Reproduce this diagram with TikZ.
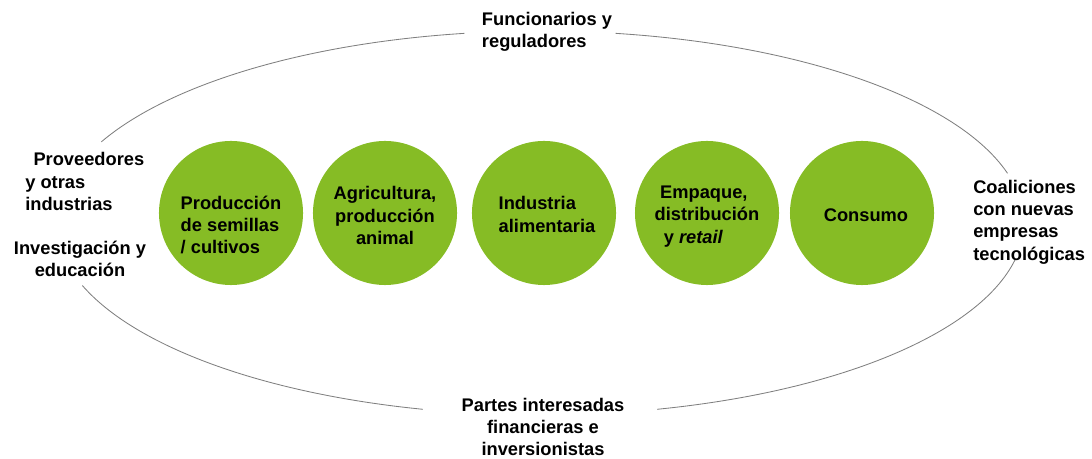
\documentclass[tikz,border=0pt]{standalone}
\usepackage{fontspec}
\setmainfont{Liberation Sans}
\usepackage{xcolor}
\usepackage{tikz}
\usetikzlibrary{calc}
\definecolor{leafgreen}{HTML}{86BC25}
\definecolor{ringgray}{HTML}{7F7F7F}
\tikzset{
  stage/.style={circle,fill=leafgreen,minimum size=3.6cm,inner sep=0pt},
  stagetxt/.style={font=\fontsize{13}{15.8}\selectfont\bfseries,inner sep=0pt},
  actor/.style={font=\fontsize{13}{15.8}\selectfont\bfseries,inner sep=0pt},
  ring/.style={draw=ringgray,line width=0.6pt},
}
\begin{document}
\begin{tikzpicture}[x=0.025cm,y=0.025cm]
  \useasboundingbox(0,0)rectangle(1092,459);
  % Outer ring, broken where the actors sit
  \coordinate(eo)at(540,236);
  \foreach \st/\en in {15/81,99/155,199/256,284/349}{
    \draw[ring]($(eo)+(\st:484 and 192)$)
      arc[start angle=\st,end angle=\en,x radius=484,y radius=192];}
  % Value chain
  \node[stage](c1)at(231,246){};
  \node[stage](c2)at(385,246){};
  \node[stage](c3)at(544,246){};
  \node[stage](c4)at(707,246){};
  \node[stage](c5)at(862,246){};
  \node[stagetxt,align=left]at($(c1)+(0,-12)$){Producción\\de semillas\\/ cultivos};
  \node[stagetxt,align=center]at($(c2)+(0,-2.5)$){Agricultura,\\producción\\animal};
  \node[stagetxt,align=left]at($(c3)+(3,-1.5)$){Industria\\alimentaria};
  \node[stagetxt,align=left]at($(c4)+(0,-3.5)$)
    {\hspace*{0.3em}Empaque,\\distribución\\\hspace*{0.5em}y \textit{retail}};
  \node[stagetxt]at($(c5)+(4,-2)$){Consumo};
  % Actors around the chain
  \node[actor,align=left](fun)at(547,427){Funcionarios y\\reguladores};
  \node[actor,align=left,anchor=west](prov)at(25,277.5)
    {\hspace*{0.45em}Proveedores\\y otras\\industrias};
  \node[actor,align=center](inv)at(80,200){Investigación y\\educación};
  \node[actor,align=left,anchor=west](coal)at(973,237)
    {Coaliciones\\con nuevas\\empresas\\tecnológicas};
  \node[actor,align=center](fin)at(543,32)
    {Partes interesadas\\financieras e\\inversionistas};
\end{tikzpicture}
\end{document}
